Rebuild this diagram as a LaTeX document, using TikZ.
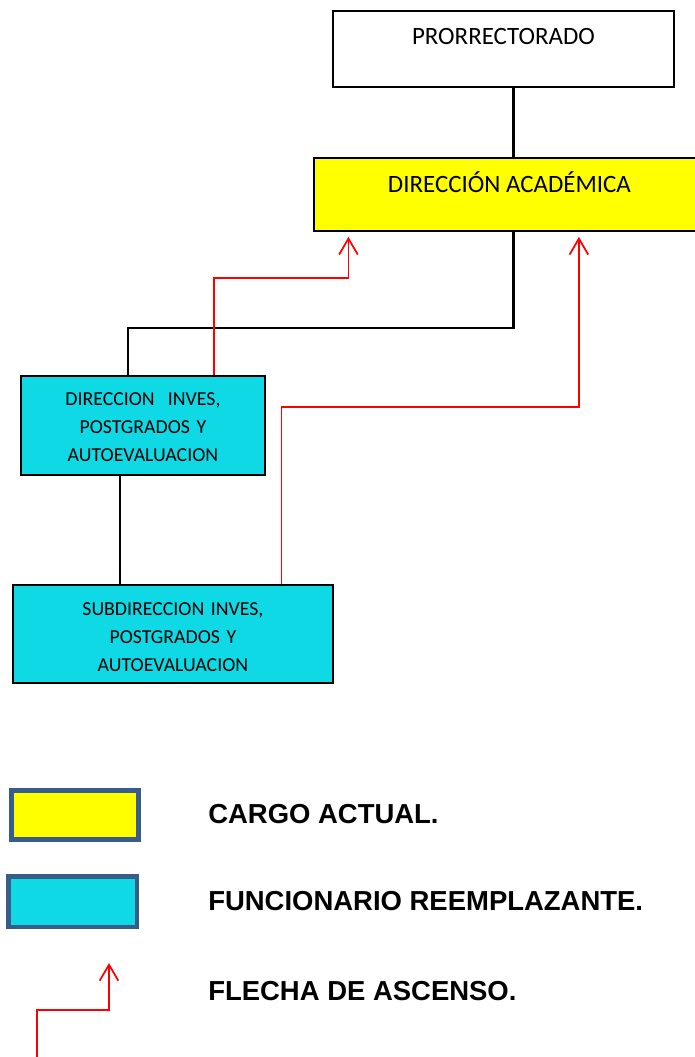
\documentclass[tikz,border=0pt]{standalone}
\usepackage{fontspec}
\setmainfont{Carlito}
\newfontfamily\leyenda{Liberation Sans}
\usepackage{tikz}
\usetikzlibrary{arrows.meta}
\definecolor{amarillo}{RGB}{255,255,0}
\definecolor{celeste}{RGB}{15,217,228}
\definecolor{borde}{RGB}{56,93,138}
\definecolor{rojo}{RGB}{255,0,0}

\begin{document}
\begin{tikzpicture}[x=0.75pt,y=-0.75pt,
    caja/.style={draw=black, line width=1.4pt, inner sep=0pt, anchor=north west},
    linea/.style={draw=black, line width=2pt},
    ascenso/.style={draw=rojo, line width=1.3pt, -{Straight Barb[length=12pt,width=14pt]}, shorten >=3.75pt},
    muestra/.style={draw=borde, line width=3.4pt, minimum width=95.6pt, minimum height=37.1pt, inner sep=0pt},
    etiqueta/.style={anchor=base west, inner sep=0pt, font=\leyenda\bfseries\fontsize{20.6}{24}\selectfont}]

      \useasboundingbox (0,0) rectangle (695,1057);

      % cargos superiores
      \node[caja, minimum width=255.75pt, text height=25.5pt, text depth=31.5pt,
            font=\fontsize{18.7}{22}\selectfont] (prorr) at (332,10) {PRORRECTORADO};
      \node[caja, fill=amarillo, minimum width=293.25pt, text height=26.25pt, text depth=28.5pt,
            font=\fontsize{18.7}{22}\selectfont] (dacad) at (313,157) {DIRECCIÓN ACADÉMICA};

      % funcionarios reemplazantes
      \node[caja, fill=celeste, text width=183pt, align=center, text height=22.5pt, text depth=51.75pt,
            font=\fontsize{14.85}{20.8}\selectfont] (dirinv) at (20,375)
            {DIRECCION\ \ INVES,\\ POSTGRADOS Y\\ AUTOEVALUACION};
      \node[caja, fill=celeste, text width=240pt, align=center, text height=23.25pt, text depth=50.25pt,
            font=\fontsize{14.85}{20.8}\selectfont] (subdir) at (12,584)
            {SUBDIRECCION INVES,\\ POSTGRADOS Y\\ AUTOEVALUACION};

      % lineas de dependencia
      \draw[linea] ([xshift=7.5pt]prorr.south) -- ([xshift=7.5pt]prorr.south |- dacad.north);
      \draw[linea] ([xshift=3pt]dacad.south) -- ++(0,96) -| ([xshift=-11.25pt]dirinv.north);
      \draw[linea] ([xshift=-17.25pt]dirinv.south) -- ([xshift=-17.25pt]dirinv.south |- subdir.north);

      % flechas de ascenso
      \draw[ascenso] ([xshift=53.25pt]dirinv.north) -- ++(0,-97) -| ([xshift=-120.75pt]dacad.south);
      \draw[ascenso] ([xshift=81.4pt]subdir.north) -- ++(0,-177) -| ([xshift=52.1pt]dacad.south);

      % leyenda
      \node[muestra, fill=amarillo] (mamar) at (75,815) {};
      \node[muestra, fill=celeste, minimum width=96.4pt, minimum height=37.9pt] (mcel) at (72.5,901.5) {};
      \node[etiqueta] (tcargo) at (208,823) {CARGO ACTUAL.};
      \node[etiqueta] (tfunc) at (208,910) {FUNCIONARIO REEMPLAZANTE.};
      \node[etiqueta] (tflecha) at (208,1000) {FLECHA DE ASCENSO.};
      \coordinate (flechaini) at (37,1057);
      \coordinate (flechafin) at (109,963);
      \draw[ascenso, shorten >=0pt] (flechaini) -- ++(0,-47) -| (flechafin);

\end{tikzpicture}
\end{document}
